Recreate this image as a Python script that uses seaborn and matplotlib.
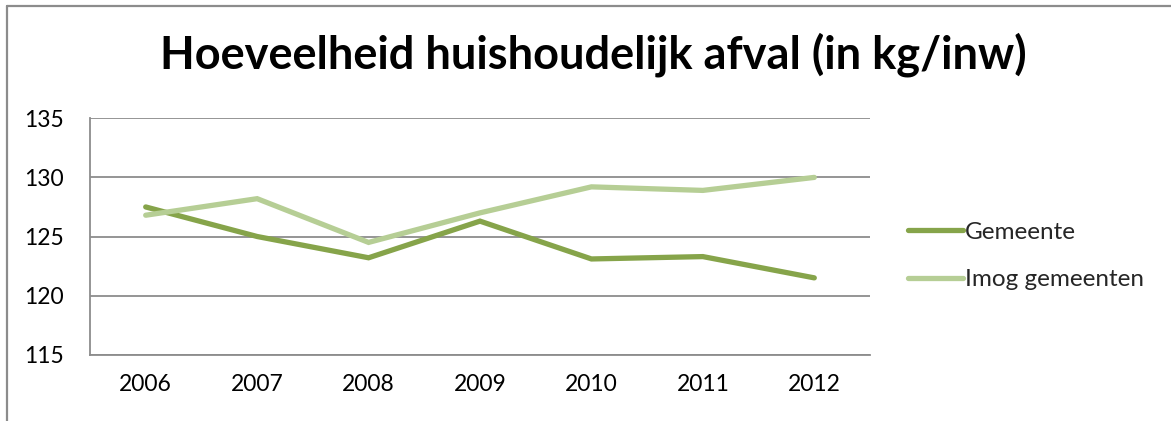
import matplotlib
matplotlib.use("Agg")
import matplotlib.pyplot as plt
from matplotlib.lines import Line2D
import seaborn as sns
import pandas as pd

years = ["2006", "2007", "2008", "2009", "2010", "2011", "2012"]
gemeente = [127.5, 125.0, 123.2, 126.3, 123.1, 123.3, 121.5]
imog = [126.8, 128.2, 124.5, 127.0, 129.2, 128.9, 130.0]
series_names = ["Gemeente", "Imog gemeenten"]
title = "Hoeveelheid huishoudelijk afval (in kg/inw)"
y_ticks = [115, 120, 125, 130, 135]

colors = {"Gemeente": "#86A44A", "Imog gemeenten": "#B6CE95"}

df = pd.DataFrame({
    "year": years * 2,
    "value": gemeente + imog,
    "series": [series_names[0]] * len(years) + [series_names[1]] * len(years),
})

sns.set_theme(style="white")
plt.rcParams["font.family"] = ["Lato", "DejaVu Sans"]

W, H = 1171, 421
fig = plt.figure(figsize=(W / 100, H / 100), dpi=100)
ax = fig.add_axes([90 / W, 1 - 354.7 / H, (870 - 90) / W, (354.7 - 118.3) / H])

sns.lineplot(data=df, x="year", y="value", hue="series", palette=colors,
             linewidth=3.8, ax=ax, legend=False, sort=False,
             solid_capstyle="round", solid_joinstyle="miter")

ax.set_xlim(-0.5, len(years) - 0.5)
ax.set_ylim(115, 135)
ax.set_yticks(y_ticks)
ax.set_yticklabels([str(v) for v in y_ticks])
ax.set_xlabel("")
ax.set_ylabel("")
ax.grid(axis="y", color="#8c8c8c", linewidth=1.3)
ax.grid(axis="x", visible=False)
ax.set_axisbelow(True)
for s in ["top", "right"]:
    ax.spines[s].set_visible(False)
for s in ["left", "bottom"]:
    ax.spines[s].set_color("#8c8c8c")
    ax.spines[s].set_linewidth(1.3)
ax.tick_params(axis="both", length=0, labelsize=16.5, colors="black")
ax.tick_params(axis="x", pad=14)
ax.tick_params(axis="y", pad=19)

fig.text(593 / W, 1 - 55 / H, title, ha="center", va="center",
         fontsize=32.5, fontweight="bold", color="black")

handles = [Line2D([0], [0], color=colors[n], linewidth=3.8, solid_capstyle="round")
           for n in series_names]
fig.legend(handles, series_names, loc="center left",
           bbox_to_anchor=(908 / W, 1 - 256 / H), frameon=False,
           fontsize=17.5, handlelength=2.25, handletextpad=0.1,
           labelspacing=1.1, borderpad=0, borderaxespad=0)

fig.add_artist(Line2D([7 / W, 7 / W], [0, 1 - 6 / H], transform=fig.transFigure,
                      color="#8c8c8c", linewidth=1.6))
fig.add_artist(Line2D([7 / W, 1], [1 - 6 / H, 1 - 6 / H], transform=fig.transFigure,
                      color="#8c8c8c", linewidth=1.6))

fig.savefig("out.png", dpi=100)
